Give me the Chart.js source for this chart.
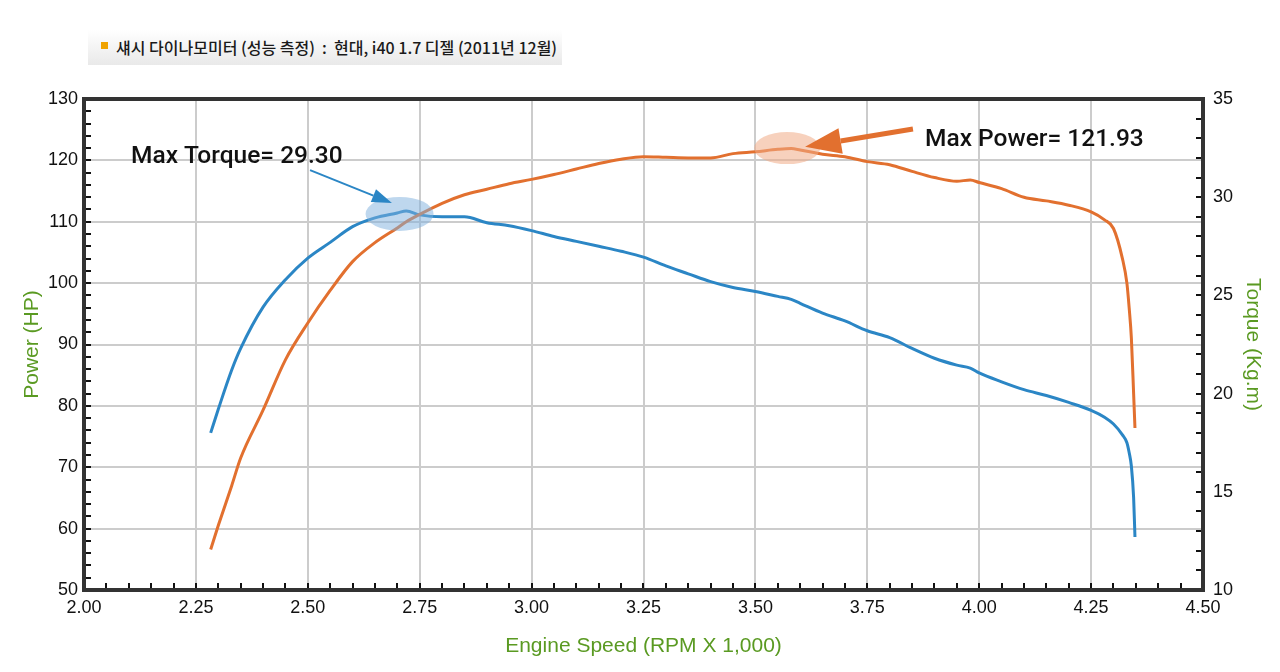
<!DOCTYPE html>
<html>
<head>
<meta charset="utf-8">
<script src="https://cdn.jsdelivr.net/npm/chart.js@4.4.1/dist/chart.umd.min.js"></script>
<style>
  body { margin:0; background:#fff; }
  #wrap { position:relative; width:1280px; height:672px; }
  #title {
    position:absolute; left:88px; top:30px; width:474px; height:35px;
    background:linear-gradient(#ffffff, #e9e9e9);
    font-family:"Noto Sans CJK KR", sans-serif; font-size:16px; font-weight:500;
    color:#1a1a1a; line-height:35px; box-sizing:border-box; padding-left:28px; white-space:nowrap;
  }
  #title:before {
    content:""; position:absolute; left:13px; top:12px; width:7px; height:7px; background:#f0a300;
  }
</style>
</head>
<body>
<div id="wrap">
  <canvas id="chart" width="1280" height="672"></canvas>
  <div id="title">섀시 다이나모미터 (성능 측정) &nbsp;:&nbsp; 현대, i40 1.7 디젤 (2011년 12월)</div>
</div>
<script>
// engine speed (x 1,000 rpm)
let rpm = [2.283,2.30,2.33,2.35,2.40,2.45,2.50,2.55,2.60,2.65,2.70,2.72,2.75,2.80,2.85,2.90,2.95,3.00,
  3.05,3.10,3.15,3.20,3.25,3.30,3.35,3.40,3.45,3.50,3.55,3.58,3.60,3.65,3.70,3.75,3.80,3.85,3.90,3.95,
  3.98,4.00,4.05,4.10,4.15,4.20,4.25,4.28,4.30,4.32,4.33,4.335,4.34,4.345,4.348];

// power (HP)
let power = [56.6,60.5,67,71.5,79.3,87.5,93.5,98.8,103.5,106.6,109.0,110.0,111.2,113.0,114.4,115.3,116.2,116.9,
  117.7,118.6,119.5,120.2,120.6,120.5,120.4,120.4,121.1,121.4,121.8,121.93,121.7,121.0,120.6,119.8,119.3,118.2,117.2,116.6,
  116.8,116.4,115.4,114.0,113.4,112.7,111.6,110.3,108.9,104,100,96,91,82,76.4];

// torque (Kg.m)
let torque = [18.0,19.2,21.2,22.3,24.4,25.8,26.9,27.7,28.5,28.95,29.2,29.30,29.1,29.0,29.0,28.7,28.55,28.3,
  28.0,27.75,27.5,27.25,26.95,26.5,26.1,25.7,25.4,25.2,24.95,24.8,24.6,24.1,23.7,23.2,22.85,22.3,21.8,21.45,
  21.3,21.05,20.6,20.2,19.9,19.55,19.15,18.8,18.45,17.9,17.5,17.0,16.3,14.7,12.7];

let xTicks = {min:2.0, max:4.5, step:0.25, minor:0.05};
let powerTicks = {min:50, max:130, step:10, minor:2};
let torqueTicks = {min:10, max:35, step:5, minor:1};

let orange = "#e2702f";
let blue = "#2b86c5";
let green = "#5a9a22";
let tickFont = {family:"Liberation Sans, Arial, sans-serif", size:18};
let titleFont = {family:"Liberation Sans, Arial, sans-serif", size:21};

function pts(ys){ return rpm.map((r,i) => ({x:r, y:ys[i]})); }

function arrow(ctx, x1, y1, x2, y2, color, width, headLen, headW){
  let a = Math.atan2(y2-y1, x2-x1);
  let bx = x2 - Math.cos(a)*headLen, by = y2 - Math.sin(a)*headLen;
  ctx.strokeStyle = color; ctx.fillStyle = color; ctx.lineWidth = width;
  ctx.beginPath(); ctx.moveTo(x1,y1); ctx.lineTo(bx,by); ctx.stroke();
  ctx.beginPath();
  ctx.moveTo(x2,y2);
  ctx.lineTo(bx + Math.sin(a)*headW/2, by - Math.cos(a)*headW/2);
  ctx.lineTo(bx - Math.sin(a)*headW/2, by + Math.cos(a)*headW/2);
  ctx.closePath(); ctx.fill();
}

/* frame, inward ticks and the max notes */
let extras = {
  id: "extras",
  afterDatasetsDraw(chart){
    let ctx = chart.ctx, a = chart.chartArea;
    let sx = chart.scales.x, sp = chart.scales.power, st = chart.scales.torque;
    ctx.save();

    // highlight ellipses
    ctx.fillStyle = "rgba(125,175,222,0.5)";
    ctx.beginPath();
    ctx.ellipse(sx.getPixelForValue(2.705), st.getPixelForValue(29.15), 34, 17, 0, 0, Math.PI*2);
    ctx.fill();
    ctx.fillStyle = "rgba(240,172,135,0.55)";
    ctx.beginPath();
    ctx.ellipse(sx.getPixelForValue(3.571), sp.getPixelForValue(122.0), 33, 16, 0, 0, Math.PI*2);
    ctx.fill();

    // arrows
    arrow(ctx, sx.getPixelForValue(2.505), st.getPixelForValue(31.38),
      sx.getPixelForValue(2.688), st.getPixelForValue(29.7), blue, 2, 20, 14);
    arrow(ctx, sx.getPixelForValue(3.852), sp.getPixelForValue(125.1),
      sx.getPixelForValue(3.611), sp.getPixelForValue(122.2), orange, 5, 36, 26);

    // labels
    ctx.fillStyle = "#111";
    ctx.font = "500 24.5px Roboto, sans-serif";
    ctx.textBaseline = "middle"; ctx.textAlign = "left";
    ctx.fillText("Max Torque= 29.30", sx.getPixelForValue(2.105), sp.getPixelForValue(120.55));
    ctx.fillText("Max Power= 121.93", sx.getPixelForValue(3.879), sp.getPixelForValue(123.3));

    // minor ticks
    ctx.strokeStyle = "#111"; ctx.lineWidth = 2;
    ctx.beginPath();
    for(let v = powerTicks.min + powerTicks.minor; v < powerTicks.max; v += powerTicks.minor){
      let y = Math.round(sp.getPixelForValue(v));
      ctx.moveTo(a.left, y); ctx.lineTo(a.left + 7, y);
    }
    for(let v = torqueTicks.min + torqueTicks.minor; v < torqueTicks.max; v += torqueTicks.minor){
      let y = Math.round(st.getPixelForValue(v));
      ctx.moveTo(a.right, y); ctx.lineTo(a.right - 7, y);
    }
    for(let v = xTicks.min + xTicks.minor; v < xTicks.max - 0.001; v += xTicks.minor){
      let x = Math.round(sx.getPixelForValue(v));
      ctx.moveTo(x, a.bottom); ctx.lineTo(x, a.bottom - 7);
    }
    ctx.stroke();

    // frame
    ctx.strokeStyle = "#333"; ctx.lineWidth = 4;
    ctx.strokeRect(a.left, a.top, a.right - a.left, a.bottom - a.top);
    ctx.restore();
  }
};

new Chart(document.getElementById("chart"), {
  type: "line",
  data: {
    datasets: [
      {label:"Power", data:pts(power), yAxisID:"power", borderColor:orange, borderWidth:3,
        pointRadius:0, cubicInterpolationMode:"monotone"},
      {label:"Torque", data:pts(torque), yAxisID:"torque", borderColor:blue, borderWidth:3,
        pointRadius:0, cubicInterpolationMode:"monotone"}
    ]
  },
  options: {
    responsive:false, animation:false,
    layout:{padding:{top:99, left:0, right:0, bottom:0}},
    plugins:{legend:{display:false}, tooltip:{enabled:false}},
    scales:{
      x:{
        type:"linear", min:xTicks.min, max:xTicks.max,
        ticks:{stepSize:xTicks.step, color:"#111", font:tickFont, padding:7,
          callback:v => Number(v).toFixed(2)},
        grid:{color:"#cccccc", lineWidth:2, drawTicks:false},
        border:{display:false},
        title:{display:true, text:"Engine Speed (RPM X 1,000)", color:green,
          font:titleFont, padding:{top:0, bottom:13}},
        afterFit(s){ s.height = 82; }
      },
      power:{
        position:"left", min:powerTicks.min, max:powerTicks.max,
        ticks:{stepSize:powerTicks.step, color:"#111", font:tickFont, padding:6},
        grid:{color:"#cccccc", lineWidth:2, drawTicks:false},
        border:{display:false},
        title:{display:true, text:"Power (HP)", color:green,
          font:titleFont, padding:{top:20, bottom:0}},
        afterFit(s){ s.width = 84; }
      },
      torque:{
        position:"right", min:torqueTicks.min, max:torqueTicks.max,
        ticks:{stepSize:torqueTicks.step, color:"#111", font:tickFont, padding:10},
        grid:{display:false, drawTicks:false},
        border:{display:false},
        title:{display:true, text:"Torque (Kg.m)", color:green,
          font:titleFont, padding:{top:15, bottom:0}},
        afterFit(s){ s.width = 77; }
      }
    }
  },
  plugins:[extras]
});
</script>
</body>
</html>
